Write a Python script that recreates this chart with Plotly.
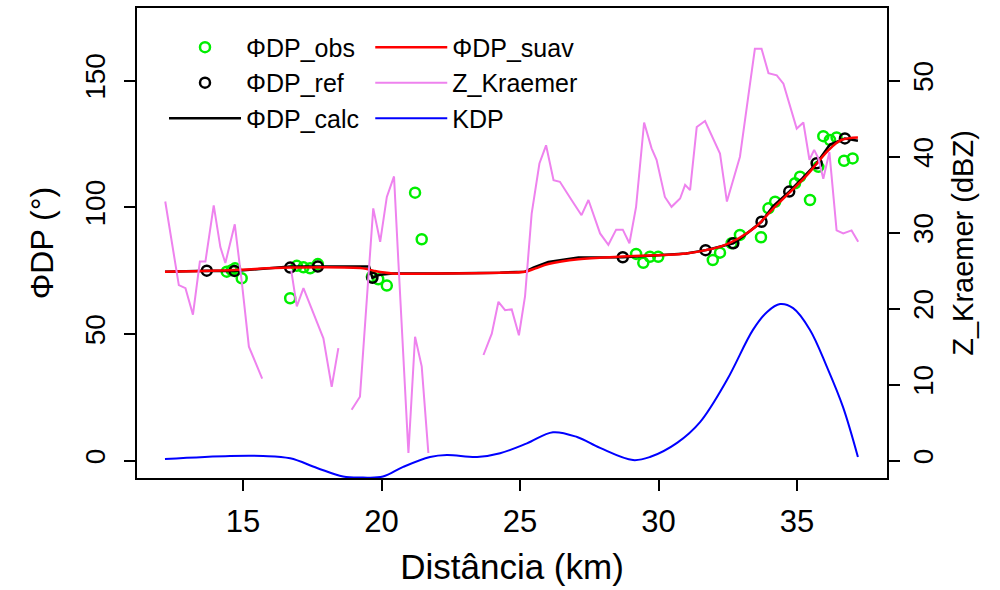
import plotly.graph_objects as go

# ---- data ----
kdp_x = [12.18, 14.53, 15.72, 16.70, 17.67, 18.61, 19.33, 20.05, 20.78, 21.75, 22.36, 23.45,
         24.28, 25.25, 26.19, 27.06, 27.89, 29.08, 29.69, 30.67, 31.50, 32.47, 33.41,
         33.92, 34.39, 34.86, 35.47, 36.08, 36.66, 37.20]
kdp_y = [0.6, 1.8, 1.8, 0.9, -2.9, -6.3, -6.7, -6.3, -2.5, 1.4, 2.2, 1.4,
         2.9, 6.8, 11.2, 9.3, 5.0, 0.2, 1.4, 7.0, 15.2, 31.8, 51.6,
         58.7, 61.8, 60.2, 51.6, 37.0, 21.2, 1.4]

suav_x = [12.18, 14.53, 16.70, 19.33, 19.70, 20.40, 22.0, 24.28, 25.18, 25.56, 26.02, 27.11,
          28.55, 30.14, 31.00, 31.71, 32.29, 32.90, 33.51, 34.09, 34.70, 35.31, 35.67,
          36.14, 36.61, 37.20]
suav_y = [74.6, 75.2, 76.2, 75.9, 75.0, 73.9, 73.9, 74.2, 74.6, 75.9, 77.6, 79.5,
          80.5, 81.2, 81.8, 83.1, 84.7, 87.8, 92.3, 98.9, 105.5, 112.1, 116.7,
          122.6, 126.6, 127.6]

calc_x = [12.18, 13.69, 14.69, 16.70, 17.70, 19.55, 19.67, 19.95, 20.40, 22.0, 24.28, 25.18,
          25.50, 26.02, 27.11, 28.71, 30.14, 31.00, 31.71, 32.70, 33.05, 33.72, 34.14,
          34.72, 35.20, 35.71, 36.19, 36.73, 37.20]
calc_y = [74.6, 75.0, 74.9, 76.6, 76.6, 76.6, 72.2, 73.4, 73.9, 73.9, 74.2, 74.6,
          76.3, 78.4, 80.2, 80.3, 81.2, 81.8, 83.1, 85.8, 88.5, 94.3, 100.5,
          106.2, 111.5, 117.4, 124.8, 127.2, 126.3]

ref_x = [13.69, 14.69, 16.70, 17.70, 19.67, 28.71, 31.70, 32.70, 33.72, 34.72, 35.71, 36.73]
ref_y = [75.0, 74.9, 76.2, 76.6, 72.2, 80.3, 83.1, 85.8, 94.3, 106.2, 117.4, 127.2]

obs_x = [14.41, 14.59, 14.71, 14.95, 16.70, 16.94, 17.18, 17.42, 17.70, 19.65, 19.88, 20.19,
         21.21, 21.45, 29.19, 29.45, 29.69, 29.99, 31.96, 32.22, 32.64, 32.94, 33.70,
         33.97, 34.21, 34.93, 35.11, 35.47, 35.77, 35.95, 36.19, 36.43, 36.70, 37.01]
obs_y = [74.6, 75.2, 75.9, 72.0, 64.1, 76.9, 76.3, 75.9, 77.6, 72.6, 71.6, 69.1,
         105.8, 87.4, 81.6, 78.1, 80.5, 80.5, 79.2, 82.1, 85.8, 89.1, 88.2,
         99.6, 102.2, 109.5, 112.1, 102.9, 116.0, 128.1, 126.6, 127.6, 118.4, 119.3]

# Z_Kraemer (dBZ), None marks missing values (gaps in the line)
z_x = [12.19, 12.68, 12.92, 13.19, 13.44, 13.64, 13.94, 14.18, 14.36, 14.70, 14.96, 15.21, 15.69,
       None,
       16.74, 16.94, 17.18, 17.90, 18.20, 18.44,
       None,
       18.92, 19.22, 19.70, 19.95, 20.19, 20.45, 20.61, 20.97, 21.21, 21.45, 21.69,
       None,
       23.68, 23.98, 24.22, 24.46, 24.70, 24.96, 25.18, 25.42, 25.70, 25.94, 26.21, 26.44,
       26.86, 27.22, 27.47, 27.89, 28.19, 28.47, 28.71, 28.95, 29.19, 29.48, 29.75, 29.93,
       30.23, 30.47, 30.78, 30.96, 31.14, 31.38, 31.68, 31.98, 32.22, 32.47, 32.94, 33.24,
       33.48, 33.72, 33.97, 34.27, 34.51, 34.99, 35.23, 35.45, 35.62, 35.77, 35.95, 36.17,
       36.43, 36.67, 36.97, 37.21]
z_y = [34.1, 23.1, 22.7, 19.2, 26.2, 26.2, 33.6, 28.1, 26.0, 31.1, 23.3, 15.0, 10.8,
       None,
       25.0, 20.3, 22.7, 16.1, 9.7, 14.8,
       None,
       6.7, 8.4, 33.2, 28.8, 34.7, 37.4, 26.0, 1.0, 16.3, 12.4, 1.0,
       None,
       13.9, 16.7, 20.9, 19.8, 19.9, 16.5, 21.6, 32.5, 39.1, 41.5, 36.9, 36.7,
       34.3, 32.3, 34.3, 29.9, 28.4, 30.4, 30.4, 28.6, 33.4, 44.5, 41.1, 39.6,
       34.7, 33.4, 34.5, 36.3, 35.6, 43.9, 44.7, 42.2, 40.4, 34.1, 40.0, 47.9,
       54.2, 54.2, 51.0, 50.7, 49.6, 43.7, 44.5, 39.6, 40.9, 39.8, 37.1, 40.6,
       30.3, 29.9, 30.3, 28.8]

x_ticks = [15, 20, 25, 30, 35]
y_ticks = [0, 50, 100, 150]
y2_ticks = [0, 10, 20, 30, 40, 50]

# ---- figure ----
fig = go.Figure()

fig.add_trace(go.Scatter(x=z_x, y=z_y, mode="lines", name="Z_Kraemer", yaxis="y2",
                         line=dict(color="#EE82EE", width=2), connectgaps=False,
                         legend="legend2", legendrank=2))
fig.add_trace(go.Scatter(x=kdp_x, y=kdp_y, mode="lines", name="KDP", line_shape="spline",
                         line=dict(color="#0000FF", width=2), legend="legend2", legendrank=3))
fig.add_trace(go.Scatter(x=obs_x, y=obs_y, mode="markers", name="ΦDP_obs",
                         marker=dict(symbol="circle-open", size=10, color="#00EE00",
                                     line=dict(width=2.5, color="#00EE00")),
                         legend="legend", legendrank=1))
fig.add_trace(go.Scatter(x=ref_x, y=ref_y, mode="markers", name="ΦDP_ref",
                         marker=dict(symbol="circle-open", size=10, color="black",
                                     line=dict(width=2.5, color="black")),
                         legend="legend", legendrank=2))
fig.add_trace(go.Scatter(x=calc_x, y=calc_y, mode="lines", name="ΦDP_calc",
                         line=dict(color="black", width=2.5), legend="legend", legendrank=3))
fig.add_trace(go.Scatter(x=suav_x, y=suav_y, mode="lines", name="ΦDP_suav", line_shape="spline",
                         line=dict(color="#FF0000", width=2.5), legend="legend2", legendrank=1))

axis_common = dict(showgrid=False, zeroline=False, ticks="outside", ticklen=11, tickwidth=1.5,
                   tickcolor="black", showline=True, linecolor="black", linewidth=1.5,
                   automargin=False)

fig.update_layout(
    width=1000, height=590,
    margin=dict(l=137, r=113, t=8, b=112),
    plot_bgcolor="white", paper_bgcolor="white",
    font=dict(family="Liberation Sans, Arial, sans-serif", color="black"),
    xaxis=dict(range=[11.17, 38.25], tickvals=x_ticks, mirror=True, ticklabelstandoff=4,
               tickfont=dict(size=31, color="black"),
               title=dict(text="Distância (km)", font=dict(size=35), standoff=17),
               **axis_common),
    yaxis=dict(range=[-6.87, 178.7], tickvals=y_ticks, tickangle=-90, mirror=True,
               ticklabelstandoff=8, tickfont=dict(size=28, color="black"),
               title=dict(text="ΦDP (°)", font=dict(size=32), standoff=17),
               **axis_common),
    yaxis2=dict(range=[-2.29, 59.57], tickvals=y2_ticks, tickangle=-90, overlaying="y",
                side="right", ticklabelstandoff=0, tickfont=dict(size=28, color="black"),
                title=dict(text="Z_Kraemer (dBZ)", font=dict(size=29), standoff=14),
                **axis_common),
    legend=dict(x=0.036, y=0.965, xanchor="left", yanchor="top", bgcolor="rgba(0,0,0,0)",
                font=dict(size=25), tracegroupgap=0, itemwidth=72,
                traceorder="normal"),
    legend2=dict(x=0.311, y=0.965, xanchor="left", yanchor="top", bgcolor="rgba(0,0,0,0)",
                 font=dict(size=25), tracegroupgap=0, itemwidth=72,
                 traceorder="normal"),
)

fig.write_html("out.html", config={"displayModeBar": False})

# remove the default page margin so the figure sits at the window's top-left corner
with open("out.html", "r", encoding="utf-8") as fh:
    html = fh.read()
html = html.replace("<head>", "<head><style>html,body{margin:0;padding:0;overflow:hidden;}</style>", 1)
with open("out.html", "w", encoding="utf-8") as fh:
    fh.write(html)
